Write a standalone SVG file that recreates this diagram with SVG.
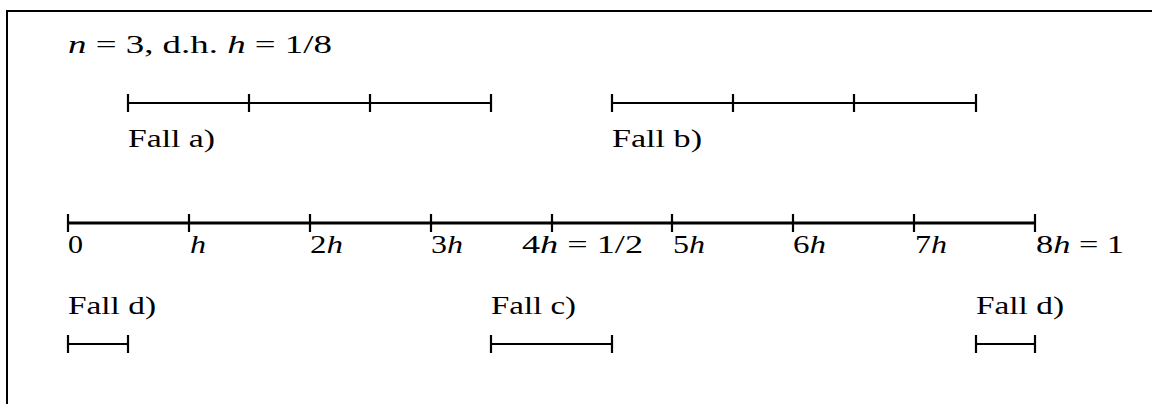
<svg xmlns="http://www.w3.org/2000/svg" width="1152" height="404" viewBox="0 0 1152 404">
<style>
text{font-family:"Liberation Serif","DejaVu Serif",serif;font-size:26px;fill:#000}
.i{font-style:italic}
.ax{stroke:#000;stroke-width:3;fill:none}
.sc{stroke:#000;stroke-width:2.2;fill:none}
.tk{stroke:#000;stroke-width:2.2;fill:none}
</style>
<rect width="1152" height="404" fill="#fff"/>
<path d="M7,404 V11 H1152" fill="none" stroke="#000" stroke-width="2"/>
<g id="title"><text x="68" y="53" textLength="264" lengthAdjust="spacingAndGlyphs"><tspan class="i">n</tspan> = 3, d.h. <tspan class="i">h</tspan> = 1/8</text></g>
<g id="fall-a">
<path class="sc" d="M128,103 H491"/>
<path class="tk" d="M128,94 V112 M249,94 V112 M370,94 V112 M491,94 V112"/>
<text x="128" y="147" textLength="87" lengthAdjust="spacingAndGlyphs">Fall a)</text>
</g>
<g id="fall-b">
<path class="sc" d="M612,103 H976"/>
<path class="tk" d="M612,94 V112 M733,94 V112 M854,94 V112 M976,94 V112"/>
<text x="612" y="147" textLength="90" lengthAdjust="spacingAndGlyphs">Fall b)</text>
</g>
<g id="axis">
<path class="ax" d="M68,223 H1035"/>
<path class="tk" d="M68,214 V232 M189,214 V232 M310,214 V232 M431,214 V232 M552,214 V232 M672,214 V232 M793,214 V232 M914,214 V232 M1035,214 V232"/>
<text x="68" y="253" textLength="15" lengthAdjust="spacingAndGlyphs">0</text>
<text x="190" y="253" class="i" textLength="16" lengthAdjust="spacingAndGlyphs">h</text>
<text x="310" y="253" textLength="33" lengthAdjust="spacingAndGlyphs">2<tspan class="i">h</tspan></text>
<text x="431" y="253" textLength="32" lengthAdjust="spacingAndGlyphs">3<tspan class="i">h</tspan></text>
<text x="522" y="253" textLength="121" lengthAdjust="spacingAndGlyphs">4<tspan class="i">h</tspan> = 1/2</text>
<text x="673" y="253" textLength="32" lengthAdjust="spacingAndGlyphs">5<tspan class="i">h</tspan></text>
<text x="793" y="253" textLength="33" lengthAdjust="spacingAndGlyphs">6<tspan class="i">h</tspan></text>
<text x="915" y="253" textLength="32" lengthAdjust="spacingAndGlyphs">7<tspan class="i">h</tspan></text>
<text x="1036" y="253" textLength="88" lengthAdjust="spacingAndGlyphs">8<tspan class="i">h</tspan> = 1</text>
</g>
<g id="fall-d-left">
<text x="68" y="314" textLength="88" lengthAdjust="spacingAndGlyphs">Fall d)</text>
<path class="sc" d="M68,344 H128"/>
<path class="tk" d="M68,335 V353 M128,335 V353"/>
</g>
<g id="fall-c">
<text x="491" y="314" textLength="85" lengthAdjust="spacingAndGlyphs">Fall c)</text>
<path class="sc" d="M491,344 H612"/>
<path class="tk" d="M491,335 V353 M612,335 V353"/>
</g>
<g id="fall-d-right">
<text x="976" y="314" textLength="88" lengthAdjust="spacingAndGlyphs">Fall d)</text>
<path class="sc" d="M976,344 H1035"/>
<path class="tk" d="M976,335 V353 M1035,335 V353"/>
</g>
</svg>
